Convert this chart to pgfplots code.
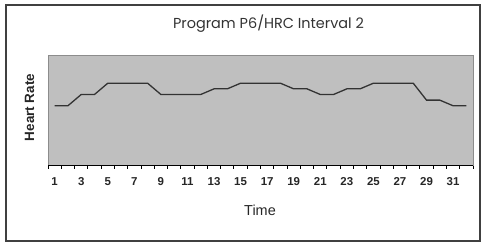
\documentclass[border=0pt]{standalone}
\usepackage{pgfplots}
\pgfplotsset{compat=1.18}
\usepackage{fontspec}
\setmainfont{Liberation Sans}
\newfontfamily\titlefont{Poppins}
\begin{document}
\begin{tikzpicture}[x=1bp,y=1bp]
\useasboundingbox (0,0) rectangle (482,244);
\draw[line width=1.5bp, color=black!75] (6,3) rectangle (480,239);
\node[font=\titlefont\fontsize{14.5}{16}\selectfont, text=black!80] at (268.5,220) {Program P6/HRC Interval 2};
\node[font=\fontsize{14.5}{16}\selectfont, text=black!85] at (260,34) {Time};
\node[font=\bfseries\fontsize{13.5}{15}\selectfont, text=black!85, rotate=90] at (29.5,136.5) {Heart Rate};
\begin{axis}[at={(48bp,79bp)}, anchor=south west, scale only axis,
  width=425bp, height=110bp,
  xmin=0.5, xmax=32.5, ymin=20, ymax=215,
  xtick={1,3,...,31}, minor xtick={0.5,1.5,...,32.5},
  major tick length=0pt, minor tick length=3.5bp,
  tick align=outside, xtick pos=bottom, ytick=\empty,
  minor tick style={black, line width=0.9bp},
  axis background/.style={fill=black!25},
  axis line style={draw=black!45, line width=0.8bp},
  /pgf/number format/assume math mode=true,
  xticklabel style={font=\bfseries\fontsize{11.5}{12}\selectfont, text=black!85, yshift=-9bp},
  clip=false]
\addplot[color=black!80, line width=1.3bp, mark=none] coordinates {
(1,125) (2,125) (3,145) (4,145) (5,165) (6,165) (7,165) (8,165)
(9,145) (10,145) (11,145) (12,145) (13,155) (14,155) (15,165) (16,165)
(17,165) (18,165) (19,155) (20,155) (21,145) (22,145) (23,155) (24,155)
(25,165) (26,165) (27,165) (28,165) (29,135) (30,135) (31,125) (32,125)};
\draw[black, line width=1bp] (rel axis cs:0,0) -- (rel axis cs:1,0);
\end{axis}
\end{tikzpicture}
\end{document}
